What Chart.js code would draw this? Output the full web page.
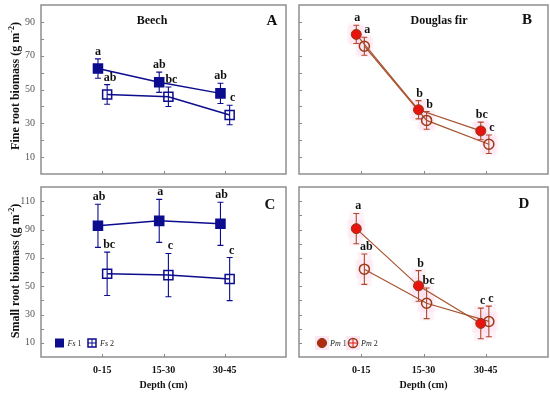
<!DOCTYPE html>
<html><head><meta charset="utf-8">
<script src="https://cdn.jsdelivr.net/npm/chart.js@4/dist/chart.umd.min.js"></script>
<style>
html,body{margin:0;padding:0;background:#fff;}
#wrap{position:relative;width:550px;height:396px;overflow:hidden;}
canvas{position:absolute;left:0;top:0;}
</style></head><body>
<div id="wrap">
<canvas id="cA" width="550" height="396"></canvas>
<canvas id="cB" width="550" height="396"></canvas>
<canvas id="cC" width="550" height="396"></canvas>
<canvas id="cD" width="550" height="396"></canvas>
</div>
<script>
// ---------- data ----------
const depths = ['0-15', '15-30', '30-45'];
const fineTicks = [10, 30, 50, 70, 90];
const smallTicks = [10, 30, 50, 70, 90, 110];

// Fine roots, Beech
const fineFs1 = [62.4, 54.3, 47.7];
const fineFs1Err = [5.7, 6.0, 6.0];
const fineFs1Letters = ['a', 'ab', 'ab'];
const fineFs2 = [47.1, 45.7, 34.9];
const fineFs2Err = [5.8, 5.8, 5.8];
const fineFs2Letters = ['ab', 'bc', 'c'];

// Fine roots, Douglas fir
const finePm1 = [82.6, 38.0, 25.5];
const finePm1Err = [5.4, 5.4, 5.2];
const finePm1Letters = ['a', 'b', 'bc'];
const finePm2 = [75.6, 31.7, 17.6];
const finePm2Err = [5.3, 5.2, 5.5];
const finePm2Letters = ['a', 'b', 'c'];

// Small roots, Beech
const smallFs1 = [92.6, 96.1, 94.0];
const smallFs1Err = [15.2, 15.2, 15.2];
const smallFs1Letters = ['ab', 'a', 'ab'];
const smallFs2 = [58.7, 57.8, 55.0];
const smallFs2Err = [15.3, 15.3, 15.2];
const smallFs2Letters = ['bc', 'c', 'c'];

// Small roots, Douglas fir
const smallPm1 = [90.6, 50.2, 23.7];
const smallPm1Err = [10.7, 10.8, 10.8];
const smallPm1Letters = ['a', 'b', 'c'];
const smallPm2 = [62.0, 37.9, 25.1];
const smallPm2Err = [10.7, 10.8, 10.8];
const smallPm2Letters = ['ab', 'bc', 'c'];

// ---------- styles ----------
const SERIF = "'Liberation Serif', 'Times New Roman', serif";
const NAVY = '#0c0c8e';
const RED = '#e8130e';
const BROWN = '#8a3c14';
const LINEBROWN = '#a5532e';
const FRAME = '#8f8f8f';
const Y_AXIS_W = 36, X_AXIS_H = 28;

function beechSeries(vals, errs, letters, filled, dx, ldx) {
  return {
    data: vals.map((v, i) => ({x: i + 1 + dx, y: v})),
    err: errs, letters: letters, letterDx: ldx, errColor: NAVY, halo: false,
    borderColor: NAVY, borderWidth: 1.5, tension: 0, fill: false,
    pointStyle: 'rect', pointRadius: 6.4,
    pointBackgroundColor: filled ? NAVY : 'rgba(0,0,0,0)',
    pointBorderColor: NAVY, pointBorderWidth: 1.5
  };
}
function dougSeries(vals, errs, letters, filled, dx, ldx) {
  return {
    data: vals.map((v, i) => ({x: i + 1 + dx, y: v})),
    err: errs, letters: letters, letterDx: ldx, errColor: '#b0482a', halo: true,
    borderColor: LINEBROWN, borderWidth: 1.2, tension: 0, fill: false,
    pointStyle: 'circle', pointRadius: 5,
    pointBackgroundColor: filled ? RED : 'rgba(0,0,0,0)',
    pointBorderColor: filled ? BROWN : '#9a3a16', pointBorderWidth: filled ? 1 : 1.5
  };
}

const panelPlugin = {
  id: 'panel',
  beforeDatasetsDraw(chart, args, o) {
    const ctx = chart.ctx, ys = chart.scales.y;
    ctx.save();
    chart.data.datasets.forEach((ds, di) => {
      if (!ds.halo) return;
      const meta = chart.getDatasetMeta(di);
      meta.data.forEach((pt, i) => {
        const v = ds.data[i].y, e = ds.err[i];
        const yt = ys.getPixelForValue(v + e), yb = ys.getPixelForValue(v - e);
        ctx.fillStyle = 'rgba(250,208,234,0.28)';
        ctx.fillRect(pt.x - 7, yt - 2, 14, yb - yt + 4);
        ctx.fillRect(pt.x - 9, pt.y - 9, 18, 18);
      });
    });
    chart.data.datasets.forEach((ds, di) => {
      const meta = chart.getDatasetMeta(di);
      ctx.strokeStyle = ds.errColor; ctx.lineWidth = 1.1;
      meta.data.forEach((pt, i) => {
        const v = ds.data[i].y, e = ds.err[i];
        const yt = ys.getPixelForValue(v + e), yb = ys.getPixelForValue(v - e);
        ctx.beginPath();
        ctx.moveTo(pt.x, yt); ctx.lineTo(pt.x, yb);
        ctx.moveTo(pt.x - 3, yt); ctx.lineTo(pt.x + 3, yt);
        ctx.moveTo(pt.x - 3, yb); ctx.lineTo(pt.x + 3, yb);
        ctx.stroke();
      });
    });
    ctx.restore();
  },
  afterDraw(chart, args, o) {
    const ctx = chart.ctx, a = chart.chartArea, ys = chart.scales.y, xs = chart.scales.x;
    ctx.save();
    // frame
    ctx.strokeStyle = FRAME; ctx.lineWidth = 1.5;
    ctx.strokeRect(a.left, a.top, a.right - a.left, a.bottom - a.top);
    // inner ticks
    ctx.lineWidth = 1; ctx.strokeStyle = '#888';
    ctx.beginPath();
    for (let v = 10; v < ys.max; v += 10) {
      const y = Math.round(ys.getPixelForValue(v)) + 0.5;
      ctx.moveTo(a.left, y); ctx.lineTo(a.left + 3, y);
    }
    depths.forEach((d, i) => {
      const x = Math.round(xs.getPixelForValue(i + 1)) + 0.5;
      ctx.moveTo(x, a.bottom); ctx.lineTo(x, a.bottom - 3);
    });
    ctx.stroke();
    // significance letters
    ctx.fillStyle = '#111';
    ctx.font = 'bold 12px ' + SERIF;
    ctx.textAlign = 'center'; ctx.textBaseline = 'alphabetic';
    chart.data.datasets.forEach((ds, di) => {
      const meta = chart.getDatasetMeta(di);
      meta.data.forEach((pt, i) => {
        const yt = ys.getPixelForValue(ds.data[i].y + ds.err[i]);
        ctx.fillText(ds.letters[i], pt.x + ds.letterDx, yt - 4);
      });
    });
    // titles
    if (o.title) {
      ctx.font = 'bold 12px ' + SERIF; ctx.textBaseline = 'middle';
      ctx.fillText(o.title, o.titleX, o.titleY);
    }
    ctx.font = 'bold 15px ' + SERIF; ctx.textBaseline = 'middle';
    ctx.fillText(o.tag, o.tagX, o.tagY);
    // y axis title
    if (o.yTitle) {
      ctx.save();
      ctx.translate(15, o.yTitleY);
      ctx.rotate(-Math.PI / 2);
      ctx.font = 'bold 12px ' + SERIF;
      const main = o.yTitle, sup = '-2', end = ')';
      const w1 = ctx.measureText(main).width;
      ctx.font = 'bold 8px ' + SERIF;
      const w2 = ctx.measureText(sup).width;
      ctx.font = 'bold 12px ' + SERIF;
      const w3 = ctx.measureText(end).width;
      let x0 = -(w1 + w2 + w3) / 2;
      ctx.textAlign = 'left'; ctx.textBaseline = 'alphabetic';
      ctx.fillText(main, x0, 4);
      ctx.font = 'bold 8px ' + SERIF;
      ctx.fillText(sup, x0 + w1, -1);
      ctx.font = 'bold 12px ' + SERIF;
      ctx.fillText(end, x0 + w1 + w2, 4);
      ctx.restore();
    }
    // x axis title
    if (o.xTitle) {
      ctx.font = 'bold 10px ' + SERIF; ctx.textAlign = 'center'; ctx.textBaseline = 'middle';
      ctx.fillText(o.xTitle, (a.left + a.right) / 2, 385);
    }
    // legend
    if (o.legend) {
      const L = o.legend, y = L.y;
      L.items.forEach(it => {
        const ds = chart.data.datasets[it.ds];
        const x = it.x;
        if (ds.pointStyle === 'rect') {
          ctx.lineWidth = 1.5; ctx.strokeStyle = NAVY;
          if (it.filled) { ctx.fillStyle = NAVY; ctx.fillRect(x - 4.5, y - 4.5, 9, 9); }
          else {
            ctx.strokeRect(x - 4, y - 4, 8, 8);
            ctx.lineWidth = 1; ctx.beginPath();
            ctx.moveTo(x, y - 4); ctx.lineTo(x, y + 4); ctx.moveTo(x - 4, y); ctx.lineTo(x + 4, y); ctx.stroke();
          }
        } else {
          ctx.fillStyle = 'rgba(250,205,232,0.5)';
          ctx.fillRect(x - 7, y - 7, 14, 14);
          ctx.beginPath(); ctx.arc(x, y, 4.6, 0, Math.PI * 2);
          if (it.filled) { ctx.fillStyle = '#b02a10'; ctx.fill(); ctx.strokeStyle = BROWN; ctx.lineWidth = 1; ctx.stroke(); }
          else {
            ctx.strokeStyle = '#9a3a16'; ctx.lineWidth = 1.5; ctx.stroke();
            ctx.strokeStyle = RED; ctx.lineWidth = 1; ctx.beginPath();
            ctx.moveTo(x, y - 4); ctx.lineTo(x, y + 4); ctx.moveTo(x - 4, y); ctx.lineTo(x + 4, y); ctx.stroke();
          }
        }
        ctx.fillStyle = '#222'; ctx.textAlign = 'left'; ctx.textBaseline = 'middle';
        ctx.font = 'italic 8px ' + SERIF;
        const tx = x + 8;
        ctx.fillText(it.name, tx, y + 1);
        const wn = ctx.measureText(it.name + ' ').width;
        ctx.font = '8px ' + SERIF;
        ctx.fillText(it.num, tx + wn, y + 1);
      });
    }
    ctx.restore();
  }
};

function makeChart(id, area, yMax, yTicks, showY, showX, datasets, panel) {
  return new Chart(document.getElementById(id), {
    type: 'line',
    data: {datasets: datasets},
    options: {
      responsive: false, animation: false, devicePixelRatio: 1,
      layout: {autoPadding: false,
               padding: {left: area[0] - Y_AXIS_W, top: area[1], right: 550 - area[2], bottom: 396 - area[3] - X_AXIS_H}},
      plugins: {legend: {display: false}, tooltip: {enabled: false}, panel: panel},
      datasets: {line: {clip: false}},
      scales: {
        x: {
          type: 'linear', min: 0, max: 4,
          grid: {display: false, drawTicks: false}, border: {display: false},
          afterBuildTicks: s => { s.ticks = depths.map((d, i) => ({value: i + 1})); },
          afterFit: s => { s.height = X_AXIS_H; s.paddingLeft = 0; s.paddingRight = 0; s.paddingTop = 0; s.paddingBottom = 0; },
          ticks: {display: showX, padding: 7, color: '#111', maxRotation: 0, autoSkip: false,
                  font: {family: SERIF, size: 10, weight: 'bold'},
                  callback: v => depths[Math.round(v) - 1]}
        },
        y: {
          min: 0, max: yMax,
          grid: {display: false, drawTicks: false}, border: {display: false},
          afterBuildTicks: s => { s.ticks = yTicks.map(v => ({value: v})); },
          afterFit: s => { s.width = Y_AXIS_W; s.paddingTop = 0; s.paddingBottom = 0; s.paddingLeft = 0; s.paddingRight = 0; },
          ticks: {display: showY, padding: 6, color: '#555', autoSkip: false, font: {family: SERIF, size: 10}}
        }
      }
    },
    plugins: [panelPlugin]
  });
}

const bdx1 = -0.07, bdx2 = 0.08, ddx1 = -0.08, ddx2 = 0.05;

makeChart('cA', [41, 5, 286, 174], 100, fineTicks, true, false, [
  beechSeries(fineFs1, fineFs1Err, fineFs1Letters, true, bdx1, 0),
  beechSeries(fineFs2, fineFs2Err, fineFs2Letters, false, bdx2, 3)
], {title: 'Beech', titleX: 152, titleY: 21, tag: 'A', tagX: 272, tagY: 21,
    yTitle: 'Fine root biomass (g m', yTitleY: 86});

makeChart('cB', [299, 5, 548, 174], 100, fineTicks, false, false, [
  dougSeries(finePm1, finePm1Err, finePm1Letters, true, ddx1, 1),
  dougSeries(finePm2, finePm2Err, finePm2Letters, false, ddx2, 3)
], {title: 'Douglas fir', titleX: 439, titleY: 21, tag: 'B', tagX: 527, tagY: 20});

makeChart('cC', [41, 187, 286, 357], 120, smallTicks, true, true, [
  beechSeries(smallFs1, smallFs1Err, smallFs1Letters, true, bdx1, 1),
  beechSeries(smallFs2, smallFs2Err, smallFs2Letters, false, bdx2, 2)
], {tag: 'C', tagX: 270, tagY: 205, yTitle: 'Small root biomass (g m', yTitleY: 271, xTitle: 'Depth (cm)',
    legend: {y: 343, items: [{ds: 0, x: 59.5, filled: true, name: 'Fs', num: '1'},
                             {ds: 1, x: 92, filled: false, name: 'Fs', num: '2'}]}});

makeChart('cD', [299, 187, 548, 357], 120, smallTicks, false, true, [
  dougSeries(smallPm1, smallPm1Err, smallPm1Letters, true, ddx1, 2),
  dougSeries(smallPm2, smallPm2Err, smallPm2Letters, false, ddx2, 2)
], {tag: 'D', tagX: 524, tagY: 204, xTitle: 'Depth (cm)',
    legend: {y: 343, items: [{ds: 0, x: 322, filled: true, name: 'Pm', num: '1'},
                             {ds: 1, x: 353, filled: false, name: 'Pm', num: '2'}]}});
</script>
</body></html>
